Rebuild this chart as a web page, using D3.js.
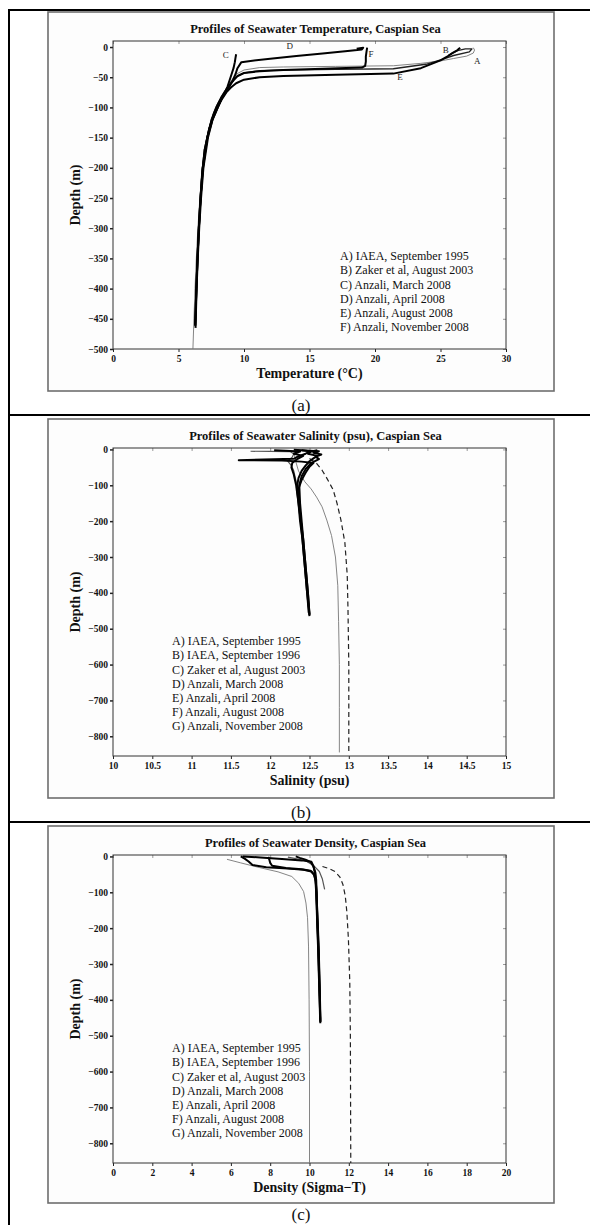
<!DOCTYPE html>
<html>
<head>
<meta charset="utf-8">
<script src="https://cdn.jsdelivr.net/npm/d3@7"></script>
<style>
  body { margin: 0; background: #fff; }
  svg { display: block; }
</style>
</head>
<body>
<svg id="fig" width="590" height="1225"></svg>
<script>
// ---------- Temperature profiles: [temperature °C, depth m] ----------
const tempA = [[27.5,-1],[27.6,-5],[27.5,-10],[27.0,-15],[26.0,-19],[25.0,-23],[23.5,-27],[21.4,-31],[17,-32],[13,-33],[11.2,-34],[10.0,-38],[9.4,-45],[9.05,-55],[8.75,-65],[8.45,-75],[8.15,-88],[7.9,-100],[7.5,-120],[7.15,-150],[6.82,-200],[6.63,-250],[6.48,-300],[6.36,-350],[6.26,-400],[6.18,-450],[6.1,-500]];
const tempB = [[25.6,-14],[26.3,-6],[26.9,-3],[27.4,-3],[27.2,-8],[26.0,-14],[25.2,-20],[24.0,-28],[21.4,-36],[17,-37],[13,-38],[11.2,-39],[10.0,-43],[9.4,-50],[9.0,-60],[8.7,-70],[8.4,-80],[8.1,-90],[7.85,-100],[7.5,-120],[7.2,-150],[6.9,-200],[6.7,-250],[6.56,-300]];
const tempC = [[9.4,-12],[9.35,-18],[9.3,-25],[9.2,-35],[9.05,-45],[8.9,-55],[8.75,-65],[8.55,-75],[8.3,-85],[8.0,-100],[7.6,-120],[7.25,-150],[6.9,-200],[6.72,-250],[6.58,-300],[6.47,-350],[6.38,-400],[6.3,-465]];
const tempD = [[18.6,-3],[19.1,-1],[19.0,-4],[18.1,-6],[16.0,-10.5],[14.0,-15],[12.0,-19.5],[10.5,-23],[9.8,-25],[9.5,-35],[9.35,-45],[9.15,-55],[8.9,-65],[8.6,-75],[8.3,-85],[8.0,-100],[7.6,-120],[7.2,-150],[6.85,-200],[6.68,-250],[6.55,-300],[6.45,-350],[6.36,-400],[6.27,-460]];
const tempE = [[26.5,-1],[26.3,-5],[25.9,-10],[25.5,-16],[25.0,-22],[23.5,-35],[21.4,-44],[17,-46],[13,-48],[11.2,-50],[10.0,-54],[9.4,-60],[9.0,-67],[8.65,-75],[8.35,-85],[8.05,-97],[7.7,-112],[7.35,-135],[7.0,-170],[6.83,-205],[6.67,-255],[6.54,-305],[6.44,-355],[6.36,-405],[6.28,-462]];
const tempF = [[19.4,-1],[19.35,-8],[19.3,-16],[19.3,-24],[19.25,-31],[19.0,-34],[16,-36],[13,-38],[11.2,-40],[10.0,-43],[9.5,-48],[9.2,-55],[8.9,-63],[8.6,-72],[8.3,-82],[8.0,-95],[7.7,-110],[7.35,-135],[7.0,-170],[6.8,-210],[6.65,-260],[6.53,-310],[6.43,-360],[6.35,-410],[6.27,-460]];
const tempLegend = ["A) IAEA, September 1995","B) Zaker et al, August 2003","C) Anzali, March 2008","D) Anzali, April 2008","E) Anzali, August 2008","F) Anzali, November 2008"];
// curve tags written beside the surface ends: [tag, temperature, depth]
const tempTags = [["C",8.6,-13],["D",13.5,2],["F",19.7,-12],["E",21.9,-50],["B",25.4,-4],["A",27.8,-23]];
const tempTicksX = [0,5,10,15,20,25,30];
const tempTicksY = [0,-50,-100,-150,-200,-250,-300,-350,-400,-450,-500];

// ---------- Salinity profiles: [salinity psu, depth m] ----------
const salA = [[12.3,-5],[12.32,-30],[12.36,-60],[12.44,-90],[12.52,-110],[12.59,-133],[12.66,-160],[12.72,-197],[12.78,-240],[12.83,-300],[12.86,-380],[12.87,-480],[12.88,-600],[12.88,-720],[12.88,-845]];
const salB = [[12.5,-25],[12.59,-39],[12.66,-58],[12.72,-80],[12.8,-112],[12.85,-150],[12.9,-197],[12.95,-260],[12.98,-350],[12.99,-450],[13.0,-600],[13.0,-845]];
const salC = [[11.75,-5],[12.0,-5.5],[12.25,-6],[12.3,-12],[12.28,-22],[12.22,-32],[12.27,-45],[12.3,-60],[12.32,-80],[12.34,-100]];
const salD = [[12.05,-2],[12.2,-4],[12.38,-6],[12.3,-12],[12.42,-18],[12.35,-26],[12.28,-38],[12.27,-50],[12.3,-70],[12.33,-100],[12.36,-150],[12.39,-200],[12.41,-250],[12.43,-300],[12.45,-350],[12.47,-400],[12.49,-440],[12.5,-465]];
const salE = [[12.3,-1],[12.45,-3],[12.62,-5],[12.55,-9],[12.65,-14],[12.58,-20],[12.62,-27],[12.52,-38],[12.45,-55],[12.4,-75],[12.37,-100],[12.38,-150],[12.4,-200],[12.42,-250],[12.44,-300],[12.46,-350],[12.48,-400],[12.5,-460]];
const salF = [[12.4,-2],[12.5,-5],[12.45,-12],[12.35,-20],[12.3,-26],[11.6,-30],[12.15,-31],[12.4,-34],[12.55,-38],[12.5,-48],[12.45,-65],[12.4,-85],[12.36,-110],[12.37,-150],[12.39,-200],[12.42,-250],[12.44,-300],[12.46,-350],[12.48,-400],[12.5,-462]];
const salG = [[12.6,-2],[12.52,-6],[12.48,-12],[12.6,-18],[12.55,-25],[12.5,-33],[12.45,-45],[12.4,-60],[12.36,-80],[12.34,-105],[12.36,-150],[12.38,-200],[12.41,-250],[12.43,-300],[12.45,-350],[12.47,-400],[12.49,-455]];
const salTicksX = [10,10.5,11,11.5,12,12.5,13,13.5,14,14.5,15];

// ---------- Density profiles: [sigma-T, depth m] ----------
const denA = [[5.8,-8],[6.5,-18],[7.45,-31],[8.4,-43],[9.1,-56],[9.45,-75],[9.7,-98],[9.82,-130],[9.9,-171],[9.95,-250],[9.98,-400],[10.0,-600],[10.0,-855]];
const denB = [[10.66,-28],[11.0,-34],[11.3,-42],[11.55,-58],[11.7,-78],[11.82,-110],[11.9,-154],[11.98,-230],[12.05,-350],[12.08,-500],[12.1,-855]];
const denC = [[8.9,-2],[9.3,-6],[9.8,-12],[10.2,-25],[10.5,-42],[10.65,-62],[10.77,-92]];
const denD = [[9.3,0],[9.5,-4],[9.8,-9],[10.05,-15],[10.2,-28],[10.3,-45],[10.34,-65],[10.36,-100],[10.39,-150],[10.42,-200],[10.46,-260],[10.49,-320],[10.52,-390],[10.55,-465]];
const denE = [[6.6,0],[7.5,-3],[8.6,-7],[9.6,-11],[10.1,-15],[10.2,-27],[10.27,-45],[10.32,-70],[10.35,-100],[10.38,-150],[10.41,-200],[10.45,-260],[10.48,-320],[10.52,-390],[10.55,-460]];
const denF = [[6.5,0],[6.7,-6],[6.9,-14],[7.1,-24],[7.8,-30],[8.9,-34],[9.7,-37],[10.1,-42],[10.25,-52],[10.32,-70],[10.36,-100],[10.39,-150],[10.43,-200],[10.47,-260],[10.5,-320],[10.53,-390],[10.56,-462]];
const denG = [[7.9,-1],[7.95,-8],[8.0,-18],[8.1,-26],[8.8,-32],[9.6,-36],[10.05,-40],[10.22,-50],[10.3,-65],[10.34,-100],[10.37,-150],[10.4,-200],[10.44,-260],[10.47,-320],[10.51,-390],[10.54,-455]];
const denTicksX = [0,2,4,6,8,10,12,14,16,18,20];

const deepLegend = ["A) IAEA, September 1995","B) IAEA, September 1996","C) Zaker et al, August 2003","D) Anzali, March 2008","E) Anzali, April 2008","F) Anzali, August 2008","G) Anzali, November 2008"];
const deepTicksY = [0,-100,-200,-300,-400,-500,-600,-700,-800];

// ---------- line styles ----------
const thinGrey = { stroke: "#777", width: 0.9, dash: null };
const dashed   = { stroke: "#222", width: 1.2, dash: "5,3.5" };
const medium   = { stroke: "#222", width: 1.4, dash: null };
const mediumGrey = { stroke: "#555", width: 1.2, dash: null };
const heavy    = { stroke: "#000", width: 2.0, dash: null };

// each figure cell: offset from the top of the page, plus cell-local positions
const panels = [
  {
    offset: 0, caption: "(a)", captionY: 405,
    title: "Profiles of Seawater Temperature, Caspian Sea",
    xLabel: "Temperature (\u00B0C)",
    xDomain: [0, 30], yDomain: [10, -500],
    xTicks: tempTicksX, yTicks: tempTicksY,
    series: [[tempA, thinGrey],[tempB, medium],[tempC, heavy],[tempD, heavy],[tempE, heavy],[tempF, heavy]],
    legend: tempLegend, legendX: 340, legendY: 256,
    tags: tempTags
  },
  {
    offset: 407, caption: "(b)", captionY: 405,
    title: "Profiles of Seawater Salinity (psu), Caspian Sea",
    xLabel: "Salinity (psu)",
    xDomain: [10, 15], yDomain: [4, -855],
    xTicks: salTicksX, yTicks: deepTicksY,
    series: [[salA, thinGrey],[salB, dashed],[salC, mediumGrey],[salD, heavy],[salE, heavy],[salF, heavy],[salG, heavy]],
    legend: deepLegend, legendX: 172, legendY: 234,
    tags: []
  },
  {
    offset: 814, caption: "(c)", captionY: 400,
    title: "Profiles of Seawater Density, Caspian Sea",
    xLabel: "Density (Sigma\u2212T)",
    xDomain: [0, 20], yDomain: [4, -855],
    xTicks: denTicksX, yTicks: deepTicksY,
    series: [[denA, thinGrey],[denB, dashed],[denC, mediumGrey],[denD, heavy],[denE, heavy],[denF, heavy],[denG, heavy]],
    legend: deepLegend, legendX: 172, legendY: 234,
    tags: []
  }
];

const SERIF = "'Liberation Serif', 'Times New Roman', serif";
const svg = d3.select("#fig");

// table rules around the three figure cells
const rules = svg.append("g").attr("stroke", "#000").attr("stroke-width", 2);
rules.append("line").attr("x1", 8).attr("x2", 590).attr("y1", 10).attr("y2", 10);
rules.append("line").attr("x1", 9).attr("x2", 9).attr("y1", 9).attr("y2", 1225);
rules.append("line").attr("x1", 8).attr("x2", 590).attr("y1", 415).attr("y2", 415);
rules.append("line").attr("x1", 8).attr("x2", 590).attr("y1", 822).attr("y2", 822);

// plot geometry inside each figure cell
const box = { left: 113, right: 506, top: 41, bottom: 349 };

panels.forEach((p, pi) => {
  const g = svg.append("g").attr("transform", `translate(0,${p.offset})`);

  // figure frame
  g.append("rect")
    .attr("x", 48).attr("y", 12).attr("width", 506).attr("height", pi === 2 ? 377 : 379)
    .attr("fill", "#fdfdfd").attr("stroke", "#6e6e6e").attr("stroke-width", 1.6);

  const x = d3.scaleLinear().domain(p.xDomain).range([box.left, box.right]);
  const y = d3.scaleLinear().domain(p.yDomain).range([box.top, box.bottom]);

  // minor inward ticks on top and right edges
  g.append("g").attr("transform", `translate(0,${box.top})`)
    .call(d3.axisTop(x).tickValues(p.xTicks).tickSize(-3).tickFormat(""))
    .call(a => a.select(".domain").remove())
    .selectAll("line").attr("stroke", "#999");
  g.append("g").attr("transform", `translate(${box.right},0)`)
    .call(d3.axisRight(y).tickValues(p.yTicks).tickSize(-3).tickFormat(""))
    .call(a => a.select(".domain").remove())
    .selectAll("line").attr("stroke", "#999");

  // bottom axis
  const xa = g.append("g").attr("transform", `translate(0,${box.bottom})`)
    .call(d3.axisBottom(x).tickValues(p.xTicks).tickSize(3).tickPadding(3).tickFormat(d => String(d)));
  xa.select(".domain").remove();
  xa.selectAll("line").attr("stroke", "#222");
  xa.selectAll("text").attr("font-family", SERIF).attr("font-weight", "bold")
    .attr("font-size", 9.5).attr("fill", "#111");

  // left axis
  const ya = g.append("g").attr("transform", `translate(${box.left},0)`)
    .call(d3.axisLeft(y).tickValues(p.yTicks).tickSize(3).tickPadding(2).tickFormat(d3.format("d")));
  ya.select(".domain").remove();
  ya.selectAll("line").attr("stroke", "#222").attr("stroke-width", 1.5);
  ya.selectAll("text").attr("font-family", SERIF).attr("font-weight", "bold")
    .attr("font-size", 9.5).attr("fill", "#111");

  // plot box
  g.append("rect")
    .attr("x", box.left).attr("y", box.top)
    .attr("width", box.right - box.left).attr("height", box.bottom - box.top)
    .attr("fill", "none").attr("stroke", "#333").attr("stroke-width", 1);

  // profiles
  const clipId = "clip" + pi;
  g.append("clipPath").attr("id", clipId).append("rect")
    .attr("x", box.left).attr("y", box.top)
    .attr("width", box.right - box.left).attr("height", box.bottom - box.top);
  const line = d3.line().x(d => x(d[0])).y(d => y(d[1]));
  const lines = g.append("g").attr("clip-path", `url(#${clipId})`);
  p.series.forEach(([pts, st]) => {
    lines.append("path")
      .attr("d", line(pts))
      .attr("fill", "none")
      .attr("stroke", st.stroke)
      .attr("stroke-width", st.width)
      .attr("stroke-linejoin", "round")
      .attr("stroke-dasharray", st.dash);
  });

  // curve tags
  p.tags.forEach(([t, vx, vy]) => {
    g.append("text").attr("x", x(vx)).attr("y", y(vy)).attr("dy", "0.35em")
      .attr("font-family", SERIF).attr("font-size", 9).attr("fill", "#222")
      .attr("text-anchor", "middle").text(t);
  });

  // title
  g.append("text").attr("x", (box.left + box.right) / 2 + 6).attr("y", 29).attr("dy", "0.35em")
    .attr("text-anchor", "middle").attr("font-family", SERIF).attr("font-weight", "bold")
    .attr("font-size", 12.5).attr("fill", "#111").text(p.title);

  // axis labels
  g.append("text").attr("x", (box.left + box.right) / 2).attr("y", 373).attr("dy", "0.35em")
    .attr("text-anchor", "middle").attr("font-family", SERIF).attr("font-weight", "bold")
    .attr("font-size", 14).attr("fill", "#111").text(p.xLabel);
  g.append("text").attr("transform", `translate(75,${(box.top + box.bottom) / 2}) rotate(-90)`)
    .attr("dy", "0.35em").attr("text-anchor", "middle").attr("font-family", SERIF)
    .attr("font-weight", "bold").attr("font-size", 14).attr("fill", "#111").text("Depth (m)");

  // legend text
  p.legend.forEach((t, i) => {
    g.append("text").attr("x", p.legendX).attr("y", p.legendY + i * 14.2).attr("dy", "0.35em")
      .attr("font-family", SERIF).attr("font-size", 12).attr("fill", "#111").text(t);
  });

  // caption under the figure
  g.append("text").attr("x", 301).attr("y", p.captionY).attr("dy", "0.35em")
    .attr("text-anchor", "middle").attr("font-family", SERIF)
    .attr("font-size", 17).attr("fill", "#111").text(p.caption);
});
</script>
</body>
</html>
